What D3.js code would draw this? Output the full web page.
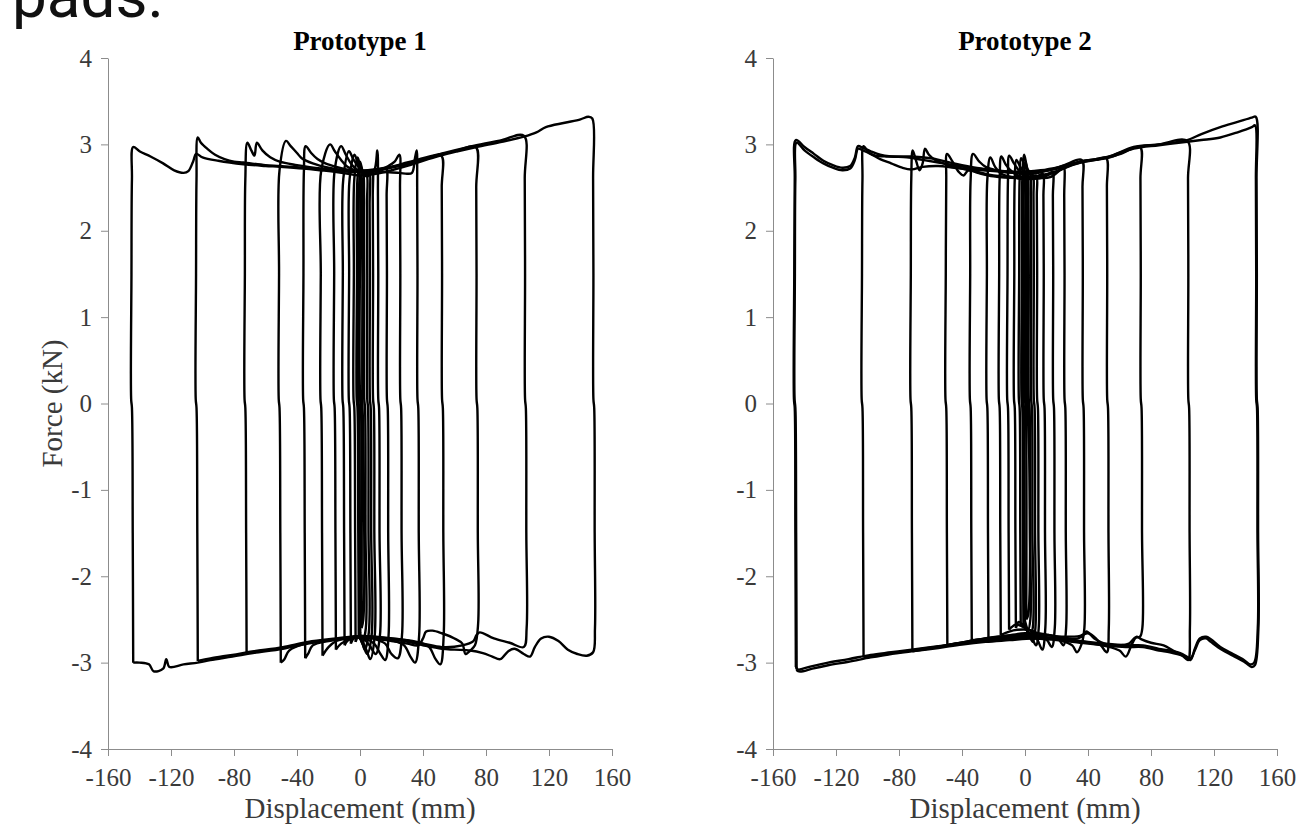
<!DOCTYPE html>
<html>
<head>
<meta charset="utf-8">
<script src="https://cdn.jsdelivr.net/npm/d3@7"></script>
<style>
  body { margin: 0; background: #ffffff; }
  svg { display: block; }
</style>
</head>
<body>
<div id="chart"></div>
<script>
// ticks and titles shared by both panels
const x_ticks = [-160, -120, -80, -40, 0, 40, 80, 120, 160];
const y_ticks = [-4, -3, -2, -1, 0, 1, 2, 3, 4];
const titles = ["Prototype 1", "Prototype 2"];

// Prototype 1: one cycle per loop, [displacement (mm), force (kN)]
const proto1_loops = [
  [[-144,-3.0],[-144.3,-1.5],[-144.8,-0.05],[-145.3,0.05],[-145.1,1.5],[-144.8,2.6],[-144,2.97],[-140,2.92],[-133,2.86],[-125,2.78],[-118,2.7],[-112,2.67],[-109,2.69],[-106,2.8],[-104,2.89],[-100,2.85],[-90,2.81],[-74,2.77],[-60,2.75],[-51,2.74],[-36,2.72],[-25,2.7],[-15,2.68],[0,2.64],[10,2.66],[20,2.7],[30,2.75],[40,2.81],[51,2.87],[62,2.92],[74,2.97],[90,3.03],[104,3.09],[112,3.14],[118,3.2],[130,3.25],[140,3.29],[145,3.32],[147.5,3.3],[148,2.6],[148.2,1.5],[148.2,0.05],[148.7,-0.05],[149,-1.5],[149.2,-2.6],[148,-2.88],[144,-2.92],[138,-2.9],[132,-2.85],[126,-2.75],[120,-2.7],[115,-2.72],[111,-2.82],[108,-2.93],[104,-2.9],[98,-2.84],[94,-2.87],[89,-2.96],[84,-2.93],[78,-2.89],[70,-2.86],[60,-2.85],[52,-2.84],[40,-2.8],[25,-2.74],[10,-2.71],[0,-2.7],[-15,-2.73],[-33,-2.78],[-49,-2.84],[-68,-2.89],[-81,-2.93],[-95,-2.97],[-103,-3.0],[-112,-3.02],[-121,-3.05],[-123,-2.96],[-125,-3.07],[-131,-3.1],[-134,-3.02],[-140,-3.0],[-144,-3.0]],
  [[-103,-2.98],[-103.3,-1.5],[-103.8,-0.05],[-104.3,0.05],[-104.1,1.5],[-103.8,2.6],[-103,3.08],[-101,3.02],[-97,2.95],[-92,2.88],[-86,2.83],[-80,2.8],[-74,2.79],[-60,2.76],[-51,2.75],[-36,2.73],[-20,2.7],[-5,2.68],[8,2.7],[20,2.74],[30,2.79],[40,2.84],[51,2.89],[74,2.99],[90,3.05],[104,3.1],[104.6,2.6],[104.8,1.5],[104.8,0.05],[105.3,-0.05],[105.6,-1.5],[105.8,-2.6],[104,-2.82],[95,-2.77],[85,-2.72],[76,-2.65],[74,-2.68],[72,-2.75],[65,-2.8],[52,-2.82],[40,-2.78],[25,-2.73],[10,-2.7],[0,-2.69],[-15,-2.72],[-33,-2.76],[-49,-2.82],[-68,-2.87],[-81,-2.91],[-95,-2.95],[-103,-2.98]],
  [[-72,-2.88],[-72.3,-1.5],[-72.8,-0.05],[-73.3,0.05],[-73.1,1.5],[-72.8,2.6],[-71.5,3.02],[-69,2.93],[-67,2.87],[-65.5,3.02],[-62,2.93],[-57,2.85],[-51,2.8],[-40,2.76],[-25,2.72],[-10,2.7],[5,2.7],[20,2.74],[36,2.8],[51,2.88],[62,2.93],[73.5,2.97],[73.8,2.5],[74,1.5],[74,0.05],[74.5,-0.05],[74.8,-1.5],[75,-2.55],[73,-2.8],[70,-2.86],[67,-2.9],[65,-2.78],[60,-2.72],[52,-2.66],[46,-2.63],[42,-2.64],[40,-2.72],[37,-2.8],[30,-2.78],[20,-2.75],[10,-2.72],[0,-2.7],[-15,-2.73],[-33,-2.77],[-49,-2.83],[-60,-2.86],[-72,-2.88]],
  [[-50.3,-3.0],[-50.6,-1.5],[-51.1,-0.05],[-51.6,0.05],[-51.4,1.5],[-51.1,2.7],[-47,3.04],[-44,2.98],[-40,2.9],[-37,2.84],[-30,2.78],[-20,2.73],[-10,2.7],[0,2.69],[10,2.7],[20,2.73],[30,2.77],[40,2.82],[51.5,2.87],[51.9,2.5],[52.1,1.5],[52.1,0.05],[52.6,-0.05],[52.9,-1.5],[53.1,-2.7],[51,-3.02],[48,-2.96],[44,-2.82],[40,-2.78],[30,-2.74],[18,-2.72],[5,-2.7],[-10,-2.72],[-25,-2.75],[-35,-2.78],[-45,-2.86],[-48,-2.96],[-50.3,-3.0]],
  [[-34.8,-2.95],[-35.1,-1.5],[-35.6,-0.05],[-36.1,0.05],[-35.9,1.5],[-35.6,2.7],[-34.5,2.98],[-31,2.9],[-27,2.83],[-22,2.78],[-15,2.74],[-5,2.7],[5,2.69],[15,2.68],[25,2.67],[30,2.66],[33,2.67],[35,2.85],[36,2.93],[36.3,2.5],[36.5,1.5],[36.5,0.05],[37,-0.05],[37.3,-1.5],[37.5,-2.7],[35,-3.0],[32,-2.93],[28,-2.8],[20,-2.74],[10,-2.71],[0,-2.69],[-10,-2.72],[-20,-2.75],[-30,-2.8],[-33,-2.9],[-34.8,-2.95]],
  [[-23.8,-2.92],[-24.1,-1.5],[-24.6,-0.05],[-25.1,0.05],[-24.9,1.5],[-24.6,2.7],[-19,3.0],[-16,2.92],[-12,2.82],[-8,2.74],[-3,2.7],[5,2.68],[12,2.7],[18,2.75],[22,2.8],[25,2.88],[25.4,2.5],[25.6,1.5],[25.6,0.05],[26.1,-0.05],[26.4,-1.5],[26.6,-2.7],[24,-2.95],[20,-2.9],[16,-2.78],[8,-2.72],[0,-2.7],[-8,-2.72],[-15,-2.75],[-20,-2.82],[-23.8,-2.92]],
  [[-15.3,-2.85],[-15.6,-1.5],[-16.1,-0.05],[-16.6,0.05],[-16.4,1.5],[-16.1,2.7],[-12,2.98],[-9,2.88],[-5,2.76],[0,2.68],[6,2.65],[12,2.68],[16.5,2.72],[16.9,2.4],[17.1,1.5],[17.1,0.05],[17.6,-0.05],[17.9,-1.5],[18.1,-2.7],[16,-2.97],[13,-2.9],[9,-2.78],[3,-2.72],[-5,-2.72],[-12,-2.78],[-15.3,-2.85]],
  [[-9.8,-2.8],[-10.1,-1.5],[-10.6,-0.05],[-11.1,0.05],[-10.9,1.5],[-10.6,2.6],[-7,2.92],[-4,2.82],[0,2.72],[5,2.66],[9,2.7],[11,2.93],[11.4,2.4],[11.6,1.5],[11.6,0.05],[12.1,-0.05],[12.4,-1.5],[12.6,-2.7],[10,-2.9],[6,-2.8],[2,-2.72],[-4,-2.7],[-8,-2.75],[-9.8,-2.8]],
  [[-5.8,-2.78],[-6.1,-1.5],[-6.6,-0.05],[-7.1,0.05],[-6.9,1.5],[-6.6,2.6],[-3.5,2.88],[-1,2.76],[2,2.66],[5,2.63],[7.8,2.7],[8.1,2.4],[8.3,1.5],[8.3,0.05],[8.8,-0.05],[9.1,-1.5],[9.3,-2.7],[6.5,-2.96],[4,-2.85],[1,-2.74],[-3,-2.7],[-5.8,-2.78]],
  [[-2.8,-2.76],[-3.1,-1.5],[-3.6,-0.05],[-4.1,0.05],[-3.9,1.5],[-3.6,2.6],[-1.5,2.85],[0.5,2.72],[3,2.63],[5.8,2.68],[6.1,2.3],[6.3,1.5],[6.3,0.05],[6.8,-0.05],[7.1,-1.5],[7.3,-2.7],[4.5,-2.9],[2,-2.8],[-1,-2.7],[-2.8,-2.76]],
  [[-0.8,-2.7],[-1.1,-1.5],[-1.6,-0.05],[-2.1,0.05],[-1.9,1.5],[-1.6,2.6],[0,2.8],[2,2.68],[4.1,2.66],[4.4,2.3],[4.6,1.5],[4.6,0.05],[5.1,-0.05],[5.4,-1.5],[5.6,-2.65],[3,-2.85],[1,-2.74],[-0.8,-2.7]],
  [[0.2,-2.65],[-0.1,-1.5],[-0.6,-0.05],[-1.1,0.05],[-0.9,1.5],[-0.6,2.5],[0.5,2.75],[1.5,2.68],[2.2,2.65],[2.5,2.2],[2.7,1.5],[2.7,0.05],[3.2,-0.05],[3.5,-1.5],[3.7,-2.6],[1.5,-2.78],[0.5,-2.72],[0.2,-2.65]],
  [[1.0,-2.6],[0.6,-0.05],[0.1,0.05],[0.3,2.2],[0.8,2.65],[1.2,2.6],[1.5,0.05],[2.0,-0.3],[2.1,-2.5],[1.0,-2.6]]
];

// Prototype 2: same protocol, first cycle repeated where two traces show
const proto2_loops = [
  [[-145.5,-3.05],[-145.8,-1.5],[-146.2,-0.05],[-146.7,0.05],[-146.5,1.5],[-146.2,2.6],[-145.5,3.05],[-140,2.97],[-134,2.89],[-128,2.81],[-122,2.76],[-116,2.73],[-111,2.75],[-108,2.85],[-106,2.98],[-103,2.96],[-98,2.92],[-92,2.88],[-85,2.86],[-75,2.85],[-65,2.82],[-55,2.79],[-45,2.76],[-35,2.73],[-20,2.7],[-5,2.68],[10,2.7],[22,2.74],[35,2.8],[45,2.83],[55,2.87],[69,2.97],[85,3.0],[103,3.05],[112,3.12],[124,3.2],[135,3.26],[144,3.31],[146.5,3.32],[147,2.6],[147.2,1.5],[147.2,0.05],[147.7,-0.05],[148,-1.5],[148.2,-2.6],[146,-3.03],[144,-3.05],[140,-3.0],[132,-2.92],[125,-2.85],[118,-2.76],[115,-2.72],[111,-2.74],[108,-2.85],[105,-2.95],[100,-2.9],[92,-2.86],[85,-2.84],[75,-2.8],[64,-2.8],[50,-2.78],[35,-2.75],[20,-2.72],[5,-2.7],[-10,-2.72],[-25,-2.74],[-40,-2.77],[-55,-2.81],[-72,-2.85],[-85,-2.88],[-98,-2.91],[-112,-2.96],[-125,-3.0],[-135,-3.04],[-141,-3.07],[-144,-3.08],[-145.5,-3.05]],
  [[-145,-3.08],[-145.3,-1.5],[-145.8,-0.05],[-146.3,0.05],[-146.1,1.5],[-145.8,2.6],[-145,3.02],[-140,2.93],[-134,2.85],[-128,2.78],[-122,2.73],[-116,2.7],[-111,2.72],[-108,2.82],[-106,2.95],[-103,2.93],[-98,2.89],[-92,2.83],[-85,2.78],[-78,2.73],[-72,2.71],[-65,2.74],[-55,2.75],[-45,2.73],[-35,2.71],[-20,2.69],[-5,2.67],[10,2.69],[22,2.73],[35,2.79],[45,2.82],[55,2.86],[69,2.95],[85,2.99],[103,3.03],[112,3.05],[124,3.08],[135,3.14],[144,3.2],[146,3.22],[146.6,2.6],[146.8,1.5],[146.8,0.05],[147.3,-0.05],[147.6,-1.5],[147.8,-2.6],[145.5,-3.0],[143,-3.02],[139,-2.97],[131,-2.89],[124,-2.82],[118,-2.73],[115,-2.7],[111,-2.72],[108,-2.83],[105,-2.97],[100,-2.92],[92,-2.88],[85,-2.86],[75,-2.82],[64,-2.82],[50,-2.8],[35,-2.77],[20,-2.74],[5,-2.72],[-10,-2.74],[-25,-2.76],[-40,-2.79],[-55,-2.83],[-72,-2.87],[-85,-2.9],[-98,-2.94],[-112,-2.99],[-125,-3.03],[-135,-3.07],[-141,-3.1],[-144,-3.1],[-145,-3.08]],
  [[-102.5,-2.94],[-102.8,-1.5],[-103.2,-0.05],[-103.7,0.05],[-103.5,1.5],[-103.2,2.6],[-102.5,2.98],[-99,2.9],[-95,2.87],[-88,2.86],[-80,2.86],[-72,2.86],[-60,2.84],[-50,2.8],[-40,2.76],[-28,2.72],[-15,2.69],[0,2.68],[15,2.7],[25,2.74],[35,2.8],[52,2.85],[69,2.96],[85,3.0],[103,3.04],[103.5,2.6],[103.7,1.5],[103.7,0.05],[104.2,-0.05],[104.5,-1.5],[104.7,-2.6],[103.5,-2.97],[100,-2.92],[94,-2.86],[88,-2.8],[80,-2.77],[74,-2.73],[71,-2.7],[68,-2.78],[64,-2.93],[60,-2.86],[52,-2.81],[40,-2.77],[25,-2.74],[10,-2.71],[-5,-2.71],[-20,-2.73],[-35,-2.76],[-50,-2.8],[-65,-2.84],[-80,-2.88],[-95,-2.92],[-102.5,-2.94]],
  [[-71.5,-2.87],[-71.8,-1.5],[-72.2,-0.05],[-72.7,0.05],[-72.5,1.5],[-72.2,2.6],[-71.3,2.93],[-69,2.8],[-67,2.7],[-65,2.78],[-63.5,2.95],[-61,2.88],[-57,2.82],[-50,2.77],[-40,2.72],[-30,2.68],[-20,2.64],[-5,2.62],[10,2.64],[20,2.69],[30,2.76],[40,2.81],[52,2.84],[62,2.9],[73,2.97],[73.3,2.6],[73.5,1.5],[73.5,0.05],[74,-0.05],[74.3,-1.5],[74.5,-2.6],[73,-2.7],[70,-2.71],[66,-2.78],[60,-2.8],[52,-2.79],[44,-2.72],[39,-2.64],[36,-2.7],[30,-2.73],[20,-2.7],[8,-2.66],[-5,-2.68],[-18,-2.7],[-32,-2.74],[-50,-2.8],[-62,-2.84],[-71.5,-2.87]],
  [[-49.3,-2.8],[-49.6,-1.5],[-50,-0.05],[-50.5,0.05],[-50.3,1.5],[-50,2.6],[-49.5,2.89],[-46,2.8],[-42,2.68],[-39,2.64],[-36,2.7],[-30,2.67],[-20,2.63],[-5,2.61],[10,2.62],[22,2.7],[35,2.8],[45,2.82],[51.5,2.84],[52,2.5],[52.2,1.5],[52.2,0.05],[52.7,-0.05],[53,-1.5],[53.2,-2.6],[52,-2.88],[49,-2.82],[45,-2.72],[40,-2.66],[35,-2.69],[25,-2.7],[12,-2.68],[0,-2.66],[-12,-2.69],[-25,-2.72],[-38,-2.76],[-49.3,-2.8]],
  [[-33.8,-2.74],[-34.1,-1.5],[-34.5,-0.05],[-35,0.05],[-34.8,1.5],[-34.5,2.6],[-33,2.89],[-29,2.8],[-25,2.74],[-18,2.7],[-8,2.67],[5,2.66],[15,2.7],[25,2.76],[36,2.82],[36.5,2.5],[36.7,1.5],[36.7,0.05],[37.2,-0.05],[37.5,-1.5],[37.7,-2.6],[36,-2.78],[33,-2.88],[30,-2.8],[22,-2.74],[10,-2.7],[0,-2.68],[-10,-2.7],[-22,-2.72],[-33.8,-2.74]],
  [[-23.2,-2.72],[-23.5,-1.5],[-23.9,-0.05],[-24.4,0.05],[-24.2,1.5],[-23.9,2.6],[-22,2.85],[-19,2.74],[-15,2.66],[-8,2.62],[0,2.6],[8,2.61],[16,2.62],[22,2.7],[24.5,2.74],[24.9,2.4],[25.1,1.5],[25.1,0.05],[25.6,-0.05],[25.9,-1.5],[26.1,-2.6],[24.5,-2.8],[21,-2.72],[15,-2.68],[8,-2.72],[0,-2.7],[-10,-2.7],[-23.2,-2.72]],
  [[-15.4,-2.68],[-15.7,-1.5],[-16.1,-0.05],[-16.6,0.05],[-16.4,1.5],[-16.1,2.6],[-15,2.86],[-12,2.76],[-8,2.68],[-2,2.62],[6,2.6],[12,2.62],[17.3,2.68],[17.7,2.4],[17.9,1.5],[17.9,0.05],[18.4,-0.05],[18.7,-1.5],[18.9,-2.6],[17,-2.82],[14,-2.74],[8,-2.66],[2,-2.62],[-5,-2.62],[-10,-2.64],[-15.4,-2.68]],
  [[-10.1,-2.62],[-10.4,-1.5],[-10.8,-0.05],[-11.3,0.05],[-11.1,1.5],[-10.8,2.6],[-10,2.87],[-7,2.78],[-3,2.68],[2,2.62],[7,2.62],[11.3,2.66],[11.7,2.4],[11.9,1.5],[11.9,0.05],[12.4,-0.05],[12.7,-1.5],[12.9,-2.6],[11,-2.85],[8,-2.74],[4,-2.64],[-2,-2.58],[-6,-2.56],[-10.1,-2.62]],
  [[-5.8,-2.6],[-6.1,-1.5],[-6.5,-0.05],[-7,0.05],[-6.8,1.5],[-6.5,2.6],[-5.5,2.82],[-3,2.74],[0,2.66],[4,2.62],[7.1,2.64],[7.5,2.4],[7.7,1.5],[7.7,0.05],[8.2,-0.05],[8.5,-1.5],[8.7,-2.6],[7,-2.8],[4,-2.7],[0,-2.6],[-4,-2.53],[-5.8,-2.6]],
  [[-2.7,-2.58],[-3,-1.5],[-3.4,-0.05],[-3.9,0.05],[-3.7,1.5],[-3.4,2.6],[-2.5,2.84],[0,2.75],[3,2.66],[5,2.64],[5.4,2.4],[5.6,1.5],[5.6,0.05],[6.1,-0.05],[6.4,-1.5],[6.6,-2.6],[5,-2.76],[2,-2.66],[-1,-2.55],[-2.7,-2.58]],
  [[-1,-2.55],[-1.3,-1.5],[-1.7,-0.05],[-2.2,0.05],[-2,1.5],[-1.7,2.6],[-0.5,2.88],[1.5,2.72],[3.4,2.66],[3.7,2.4],[3.9,1.5],[3.9,0.05],[4.4,-0.05],[4.7,-1.5],[4.9,-2.6],[3,-2.7],[1,-2.6],[-1,-2.55]],
  [[0,-2.52],[-0.3,-1.5],[-0.7,-0.05],[-1.2,0.05],[-1,1.5],[-0.7,2.5],[0.3,2.8],[1.5,2.7],[2,2.66],[2.2,2.3],[2.4,1.5],[2.4,0.05],[2.9,-0.05],[3.2,-1.5],[3.4,-2.5],[2,-2.62],[0,-2.52]],
  [[0.8,-2.5],[0.5,-0.05],[0,0.05],[0.2,2.2],[0.8,2.7],[1.2,2.65],[1.4,0.05],[1.9,-0.05],[2,-2.45],[0.8,-2.5]]
];

// -------------------------< layout >--------------------------
const width = 1299;
const height = 828;
const plot_top = 58;
const plot_bottom = 749;
const plot_w = 504;
const panels = [
  { left: 108, title: titles[0], loops: proto1_loops, y_title: true },
  { left: 773, title: titles[1], loops: proto2_loops, y_title: false }
];
const serif = "'Liberation Serif', 'Times New Roman', serif";

const svg = d3.select("#chart")
  .append("svg")
  .attr("width", width)
  .attr("height", height);

// the caption text cut off at the top of the page
svg.append("text")
  .attr("x", 12)
  .attr("y", 17)
  .style("font-family", "Roboto, 'Noto Sans', sans-serif")
  .style("font-size", "62px")
  .attr("fill", "#111")
  .text("pads.");

panels.forEach(p => {
  const x = d3.scaleLinear()
    .domain([-160, 160])
    .range([p.left, p.left + plot_w]);

  const y = d3.scaleLinear()
    .domain([-4, 4])
    .range([plot_bottom, plot_top]);

  const g = svg.append("g");

  // x axis
  const xa = g.append("g")
    .attr("transform", `translate(0,${plot_bottom})`)
    .call(d3.axisBottom(x)
      .tickValues(x_ticks)
      .tickFormat(d => String(d))
      .tickSize(7)
      .tickSizeOuter(0)
      .tickPadding(12));

  // y axis
  const ya = g.append("g")
    .attr("transform", `translate(${p.left},0)`)
    .call(d3.axisLeft(y)
      .tickValues(y_ticks)
      .tickFormat(d => String(d))
      .tickSize(7)
      .tickSizeOuter(0)
      .tickPadding(9));

  [xa, ya].forEach(a => {
    a.select(".domain").attr("stroke", "#8c8c8c");
    a.selectAll(".tick line").attr("stroke", "#8c8c8c");
    a.selectAll(".tick text")
      .attr("fill", "#3a3a3a")
      .style("font-family", serif)
      .style("font-size", "25px");
  });

  // hysteresis loops, smoothed a little like the plotted test record
  const line = d3.line()
    .x(d => x(d[0]))
    .y(d => y(d[1]))
    .curve(d3.curveCatmullRom.alpha(0.5));

  g.selectAll(".loop")
    .data(p.loops)
    .enter()
    .append("path")
    .attr("class", "loop")
    .attr("d", line)
    .attr("fill", "none")
    .attr("stroke", "#000")
    .attr("stroke-width", 2.4)
    .attr("stroke-linejoin", "round");

  // panel title
  g.append("text")
    .attr("x", x(0))
    .attr("y", 50)
    .attr("text-anchor", "middle")
    .style("font-family", serif)
    .style("font-size", "27px")
    .style("font-weight", "bold")
    .text(p.title);

  // x axis title
  g.append("text")
    .attr("x", x(0))
    .attr("y", 818)
    .attr("text-anchor", "middle")
    .attr("fill", "#3a3a3a")
    .style("font-family", serif)
    .style("font-size", "29px")
    .text("Displacement (mm)");

  // y axis title, left panel only
  if (p.y_title) {
    g.append("text")
      .attr("transform", `translate(62,${y(0)}) rotate(-90)`)
      .attr("text-anchor", "middle")
      .attr("fill", "#3a3a3a")
      .style("font-family", serif)
      .style("font-size", "29px")
      .text("Force (kN)");
  }
});
</script>
</body>
</html>
